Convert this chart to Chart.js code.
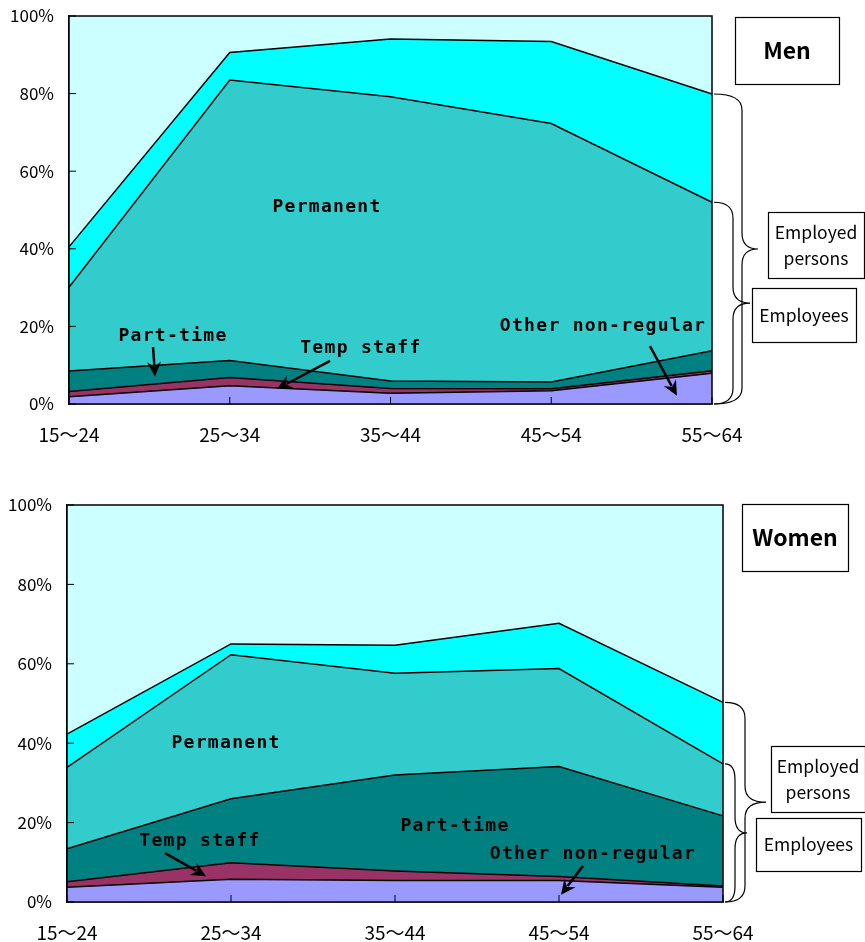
<!DOCTYPE html>
<html>
<head>
<meta charset="utf-8">
<script src="https://cdn.jsdelivr.net/npm/chart.js@4.4.1/dist/chart.umd.min.js"></script>
<style>
html, body { margin: 0; padding: 0; background: #fff; }
#wrap { position: relative; width: 865px; height: 942px; overflow: hidden; }
.pane { position: absolute; left: 0; width: 865px; }
</style>
</head>
<body>
<div id="wrap">
  <div class="pane" style="top:0;height:466px"><canvas id="chart_men"></canvas></div>
  <div class="pane" style="top:470px;height:472px"><canvas id="chart_women"></canvas></div>
</div>
<script>
// age groups and y ticks
var ageGroups = ['15～24', '25～34', '35～44', '45～54', '55～64'];
var yTicks = [0, 20, 40, 60, 80, 100];

// shares of the population (%), stacked bottom to top
var menOtherNonRegular = [1.9, 4.7, 2.8, 3.4, 7.9];
var menTempStaff       = [1.3, 2.1, 1.2, 0.5, 0.7];
var menPartTime        = [5.3, 4.4, 1.9, 1.8, 5.1];
var menPermanent       = [21.6, 72.3, 73.3, 66.6, 38.3];
var menNonEmployee     = [10.4, 7.1, 14.9, 21.1, 27.9];
var menNotEmployed     = [59.5, 9.4, 5.9, 6.6, 20.1];

var womenOtherNonRegular = [3.7, 5.7, 5.4, 5.4, 3.7];
var womenTempStaff       = [1.4, 4.2, 2.4, 1.0, 0.3];
var womenPartTime        = [8.3, 16.1, 24.2, 27.7, 17.7];
var womenPermanent       = [20.5, 36.3, 25.6, 24.7, 13.1];
var womenNonEmployee     = [8.4, 2.7, 7.1, 11.4, 15.5];
var womenNotEmployed     = [57.7, 35.0, 35.3, 29.8, 49.7];

var FONT = '"Noto Sans CJK JP", "Noto Sans", sans-serif';
var NOTE_FONT = '"DejaVu Sans Mono", "Liberation Mono", monospace';

function makeDatasets(other, temp, part, perm, nonEmp, notEmp) {
    var base = { borderColor: '#000', borderWidth: 1.5, pointRadius: 0, tension: 0 };
    return [
        { label: 'Other non-regular', data: other, backgroundColor: '#9999ff', fill: 'origin' },
        { label: 'Temp staff', data: temp, backgroundColor: '#993366', fill: '-1' },
        { label: 'Part-time', data: part, backgroundColor: '#008080', fill: '-1' },
        { label: 'Permanent', data: perm, backgroundColor: '#33cccc', fill: '-1' },
        { label: 'Employed, not employee', data: nonEmp, backgroundColor: '#00ffff', fill: '-1' },
        { label: 'Not employed', data: notEmp, backgroundColor: '#ccffff', fill: '-1', borderWidth: 0 }
    ].map(function (d) { return Object.assign({}, base, d); });
}

function sumTo(chart, idx, upto) {
    var s = 0;
    for (var i = 0; i <= upto; i++) s += chart.data.datasets[i].data[idx];
    return s;
}

function drawArrow(ctx, x1, y1, x2, y2) {
    var a = Math.atan2(y2 - y1, x2 - x1), h = 15, w = 7;
    var c = Math.cos(a), s = Math.sin(a);
    var bx = x2 - h * c, by = y2 - h * s;
    ctx.lineWidth = 2.5;
    ctx.beginPath(); ctx.moveTo(x1, y1); ctx.lineTo(bx + 4 * c, by + 4 * s); ctx.stroke();
    ctx.beginPath();
    ctx.moveTo(x2, y2);
    ctx.lineTo(bx - w * s, by + w * c);
    ctx.lineTo(bx + 5 * c, by + 5 * s);
    ctx.lineTo(bx + w * s, by - w * c);
    ctx.closePath(); ctx.fill();
}

function drawBrace(ctx, x0, yTop, yBot, w, tipX) {
    var mid = (yTop + yBot) / 2, r = Math.min(16, (yBot - yTop) / 6);
    ctx.lineWidth = 1.2;
    ctx.beginPath();
    ctx.moveTo(x0, yTop);
    ctx.quadraticCurveTo(x0 + w, yTop, x0 + w, yTop + r);
    ctx.lineTo(x0 + w, mid - r);
    ctx.quadraticCurveTo(x0 + w, mid, tipX, mid);
    ctx.quadraticCurveTo(x0 + w, mid, x0 + w, mid + r);
    ctx.lineTo(x0 + w, yBot - r);
    ctx.quadraticCurveTo(x0 + w, yBot, x0, yBot);
    ctx.stroke();
}

var notesPlugin = {
    id: 'notes',
    afterDraw: function (chart, args, opts) {
        var ctx = chart.ctx, a = chart.chartArea;
        var xs = chart.scales.x, ys = chart.scales.y;
        var px = function (i) { return xs.getPixelForValue(i); };
        var py = function (v) { return ys.getPixelForValue(v); };
        ctx.save();
        ctx.strokeStyle = '#000'; ctx.fillStyle = '#000';
        // frame
        ctx.lineWidth = 1.5;
        ctx.strokeRect(a.left, a.top, a.right - a.left, a.bottom - a.top);
        // inner tick marks
        ctx.lineWidth = 1;
        yTicks.forEach(function (v) {
            ctx.beginPath(); ctx.moveTo(a.left, py(v)); ctx.lineTo(a.left + 7, py(v)); ctx.stroke();
        });
        ageGroups.forEach(function (g, i) {
            ctx.beginPath(); ctx.moveTo(px(i), a.bottom); ctx.lineTo(px(i), a.bottom - 7); ctx.stroke();
        });
        // labels and arrows
        ctx.textAlign = 'center'; ctx.textBaseline = 'middle';
        ctx.font = 'bold 18px ' + NOTE_FONT;
        ctx.letterSpacing = '1.3px';
        opts.labels.forEach(function (l) {
            ctx.fillText(l.text, px(l.x), py(l.y));
            if (l.arrow) drawArrow(ctx, px(l.arrow[0]), py(l.arrow[1]), px(l.arrow[2]), py(l.arrow[3]));
        });
        ctx.letterSpacing = '0px';
        // braces at the last age group
        var last = ageGroups.length - 1;
        opts.braces.forEach(function (b) {
            var top = py(sumTo(chart, last, b.upto));
            drawBrace(ctx, a.right + 2, top, a.bottom, b.w, a.right + b.tip);
        });
        // boxes
        ctx.lineWidth = 1.2;
        opts.boxes.forEach(function (b) {
            ctx.fillStyle = '#fff';
            ctx.fillRect(b.x, b.y, b.w, b.h);
            ctx.strokeRect(b.x + 0.5, b.y + 0.5, b.w, b.h);
            ctx.fillStyle = '#000';
            ctx.font = (b.bold ? 'bold ' : '') + b.size + 'px ' + FONT;
            var n = b.lines.length, lh = b.size * 1.5;
            b.lines.forEach(function (t, k) {
                ctx.fillText(t, b.x + b.w / 2, b.y + b.h / 2 + (k - (n - 1) / 2) * lh);
            });
        });
        ctx.restore();
    }
};

function makeChart(id, datasets, yWidth, xHeight, padTop, padRight, notes) {
    return new Chart(document.getElementById(id), {
        type: 'line',
        data: { labels: ageGroups, datasets: datasets },
        options: {
            animation: false,
            responsive: true,
            maintainAspectRatio: false,
            layout: { padding: { top: padTop, right: padRight, left: 0, bottom: 0 } },
            plugins: {
                legend: { display: false },
                tooltip: { enabled: false },
                notes: notes
            },
            scales: {
                x: {
                    type: 'category',
                    offset: false,
                    grid: { display: false, drawTicks: false },
                    border: { display: true, color: '#000', width: 1.5 },
                    ticks: { color: '#000', font: { family: FONT, size: 19 }, padding: 19, maxRotation: 0, autoSkip: false },
                    afterFit: function (s) { s.height = xHeight; s.paddingLeft = 0; s.paddingRight = 0; }
                },
                y: {
                    stacked: true,
                    min: 0,
                    max: 100,
                    grid: { display: false, drawTicks: false },
                    border: { display: true, color: '#000', width: 1.5 },
                    afterBuildTicks: function (s) { s.ticks = yTicks.map(function (v) { return { value: v }; }); },
                    ticks: { color: '#000', font: { family: FONT, size: 17 }, padding: 15, callback: function (v) { return v + '%'; } },
                    afterFit: function (s) { s.width = yWidth; s.paddingTop = 0; s.paddingBottom = 0; }
                }
            }
        },
        plugins: [notesPlugin]
    });
}

var chart_men = makeChart('chart_men',
    makeDatasets(menOtherNonRegular, menTempStaff, menPartTime, menPermanent, menNonEmployee, menNotEmployed),
    69, 62, 16, 153, {
        labels: [
            { text: 'Permanent', x: 1.605, y: 50.8 },
            { text: 'Part-time', x: 0.647, y: 17.5, arrow: [0.523, 14.7, 0.535, 7.0] },
            { text: 'Temp staff', x: 1.816, y: 14.4, arrow: [1.624, 11.1, 1.294, 3.9] },
            { text: 'Other non-regular', x: 3.322, y: 20.1, arrow: [3.614, 14.9, 3.782, 2.1] }
        ],
        braces: [
            { upto: 4, w: 28, tip: 46 },
            { upto: 3, w: 19, tip: 38 }
        ],
        boxes: [
            { x: 735, y: 17, w: 104, h: 67, lines: ['Men'], size: 23, bold: true },
            { x: 768, y: 212, w: 96, h: 66, lines: ['Employed', 'persons'], size: 17.5 },
            { x: 752, y: 288, w: 104, h: 54, lines: ['Employees'], size: 17.5 }
        ]
    });

var chart_women = makeChart('chart_women',
    makeDatasets(womenOtherNonRegular, womenTempStaff, womenPartTime, womenPermanent, womenNonEmployee, womenNotEmployed),
    67, 40, 35, 142, {
        labels: [
            { text: 'Permanent', x: 0.97, y: 40.0 },
            { text: 'Temp staff', x: 0.811, y: 15.4, arrow: [0.598, 12.3, 0.848, 6.5] },
            { text: 'Part-time', x: 2.366, y: 19.1 },
            { text: 'Other non-regular', x: 3.207, y: 12.1, arrow: [3.146, 9.1, 3.012, 1.8] }
        ],
        braces: [
            { upto: 4, w: 20, tip: 43 },
            { upto: 3, w: 10, tip: 24 }
        ],
        boxes: [
            { x: 742, y: 34, w: 106, h: 67, lines: ['Women'], size: 23, bold: true },
            { x: 771, y: 276, w: 94, h: 66, lines: ['Employed', 'persons'], size: 17.5 },
            { x: 756, y: 348, w: 105, h: 53, lines: ['Employees'], size: 17.5 }
        ]
    });
</script>
</body>
</html>
